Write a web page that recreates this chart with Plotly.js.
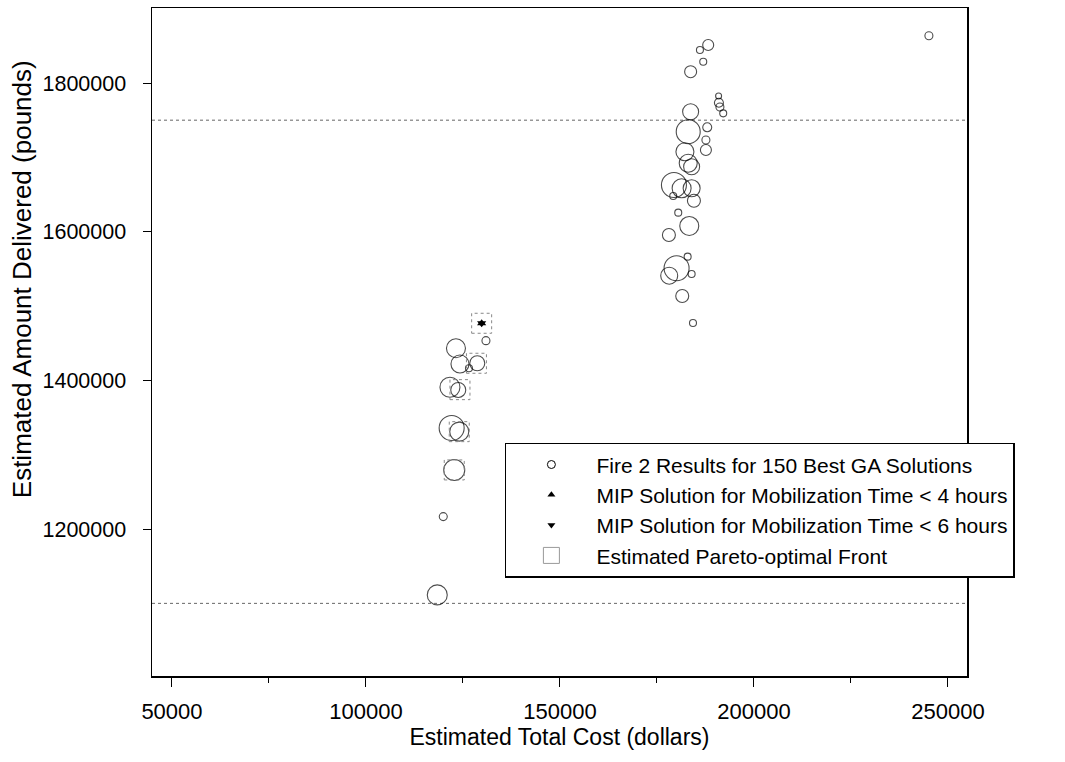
<!DOCTYPE html>
<html>
<head>
<meta charset="utf-8">
<script src="https://cdn.plot.ly/plotly-3.0.1.min.js"></script>
<style>html,body{margin:0;padding:0;background:#fff;}#chart{width:1065px;height:762px;}</style>
</head>
<body>
<div id="chart"></div>
<script>
// GA solutions: cost (dollars), amount delivered (pounds), relative bubble size
const gaCost = [245080,188200,186070,186920,183670,190880,190960,191220,192070,183670,183050,187950,187610,187610,182200,183050,183930,179370,181350,183930,184520,179190,180480,183320,178070,182900,180050,178150,183930,181510,184280,
  130920,123190,124220,128680,126540,121640,123780,122080,124040,122750,119920,118370];
const gaAmount = [1863600,1851100,1844400,1828600,1815200,1782500,1773500,1767700,1759200,1761400,1734500,1740400,1723300,1709900,1707600,1692000,1687300,1662800,1658400,1658400,1641700,1648000,1625600,1607700,1595600,1566400,1550800,1540800,1543100,1513500,1477200,
  1453400,1443200,1422100,1423000,1416300,1390700,1387100,1336000,1331000,1279500,1216700,1111400];
const gaSize = [8,11,7,7,12,6,9,8,7,16,24,9,8,11,18,18,16,25,19,17,13,7,7,19,13,7,25,17,7,13,7,
  8,19,18,15,7,20,15,25,19,21,8,20];

// MIP solutions
const mip4Cost = [129810];
const mip4Amount = [1476800];
const mip6Cost = [129810];
const mip6Amount = [1476800];

// Estimated Pareto-optimal front
const paretoCost = [129810,128470,124220,124040,122750];
const paretoAmount = [1476800,1423000,1387500,1331000,1279500];

// Horizontal reference lines
const refLines = [1100000, 1750000];

const xTicks = [50000,100000,150000,200000,250000];
const yTicks = [1200000,1400000,1600000,1800000];

const legendNames = [
  'Fire 2 Results for 150 Best GA Solutions',
  'MIP Solution for Mobilization Time < 4 hours',
  'MIP Solution for Mobilization Time < 6 hours',
  'Estimated Pareto-optimal Front'
];
const xTitle = 'Estimated Total Cost (dollars)';
const yTitle = 'Estimated Amount Delivered (pounds)';

const font = 'Liberation Sans, Arial, Helvetica, sans-serif';

const traces = [
  {x: gaCost, y: gaAmount, type:'scatter', mode:'markers', showlegend:false,
   marker:{symbol:'circle-open', size:gaSize, color:'#000', line:{width:1.1, color:'#000'}}},
  {x: mip4Cost, y: mip4Amount, type:'scatter', mode:'markers', showlegend:false,
   marker:{symbol:'triangle-up', size:8, color:'#000'}},
  {x: mip6Cost, y: mip6Amount, type:'scatter', mode:'markers', showlegend:false,
   marker:{symbol:'triangle-down', size:8, color:'#000'}},
  // legend entries
  {x:[null], y:[null], type:'scatter', mode:'markers', name:legendNames[0],
   marker:{symbol:'circle-open', size:8, color:'#000', line:{width:1}}},
  {x:[null], y:[null], type:'scatter', mode:'markers', name:legendNames[1],
   marker:{symbol:'triangle-up', size:7, color:'#000'}},
  {x:[null], y:[null], type:'scatter', mode:'markers', name:legendNames[2],
   marker:{symbol:'triangle-down', size:7, color:'#000'}},
  {x:[null], y:[null], type:'scatter', mode:'markers', name:legendNames[3],
   marker:{symbol:'square-open', size:16, color:'#999', line:{width:1}}}
];

const shapes = [];
refLines.forEach(v => shapes.push({type:'line', xref:'paper', yref:'y', x0:0, x1:1, y0:v, y1:v,
  line:{color:'#666', width:1, dash:'dot'}, layer:'below'}));
paretoCost.forEach((c,i) => shapes.push({type:'rect', xref:'x', yref:'y',
  xsizemode:'pixel', ysizemode:'pixel', xanchor:c, yanchor:paretoAmount[i],
  x0:-10, x1:10, y0:-10, y1:10, line:{color:'#888', width:1, dash:'dot'}}));

const layout = {
  width:1065, height:762,
  margin:{l:152, r:98, t:8, b:86},
  paper_bgcolor:'#fff', plot_bgcolor:'#fff',
  font:{family:font, color:'#000', size:18},
  xaxis:{range:[44850,254900], tickvals:xTicks, ticktext:xTicks.map(String),
    ticks:'outside', ticklen:9, tickwidth:1, tickcolor:'#000', ticklabelstandoff:6,
    minor:{dtick:25000, tick0:0, ticks:'outside', ticklen:5, tickcolor:'#000'},
    showline:true, linecolor:'#000', linewidth:1.5, mirror:true, showgrid:false, zeroline:false,
    tickfont:{size:22, family:font},
    title:{text:xTitle, font:{size:23, family:font}, standoff:6}},
  yaxis:{range:[1002300,1900900], tickvals:yTicks, ticktext:yTicks.map(String),
    ticks:'outside', ticklen:8, tickwidth:1, tickcolor:'#000', ticklabelstandoff:12,
    showline:true, linecolor:'#000', linewidth:1.5, mirror:true, showgrid:false, zeroline:false,
    tickfont:{size:21.5, family:font}},
  annotations:[{text:yTitle, xref:'paper', yref:'paper', x:-0.1595, y:0.594,
    xanchor:'center', yanchor:'middle', textangle:-90, showarrow:false,
    font:{size:26, family:font, color:'#000'}}],
  legend:{x:0.433, xanchor:'left', y:0.349, yanchor:'top', bgcolor:'#fff',
    bordercolor:'#000', borderwidth:1.5, font:{size:21, family:font}, itemwidth:80,
    tracegroupgap:0},
  shapes:shapes,
  showlegend:true
};

Plotly.newPlot('chart', traces, layout, {displayModeBar:false, staticPlot:true});
</script>
</body>
</html>
